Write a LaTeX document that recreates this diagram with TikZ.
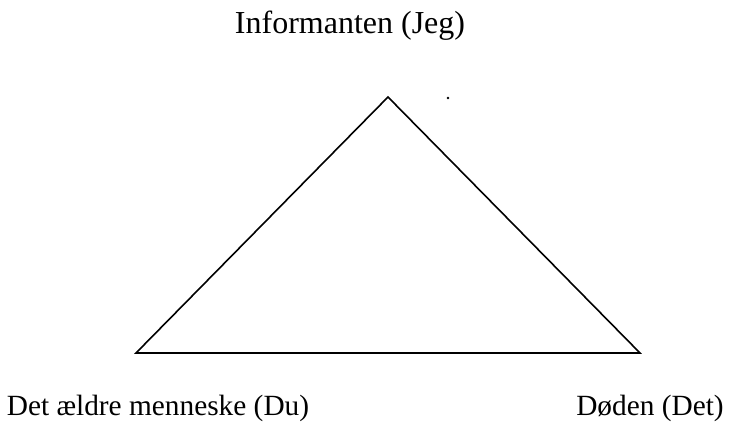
\documentclass[tikz,border=0pt]{standalone}
\usepackage{fontspec}
\setmainfont{Liberation Serif}
\usetikzlibrary{positioning}

\begin{document}
\begin{tikzpicture}[
    x=0.75pt, y=-0.75pt,
    label/.style={font=\fontsize{22}{26}\selectfont, inner sep=0pt},
    side/.style={draw=black, line width=1.2pt, line join=miter}
]
    \useasboundingbox (0,0) rectangle (734,425);
    % corners of the triangle
    \coordinate (top) at (388,97);
    \coordinate (left) at (136,353);
    \coordinate (right) at (640,353);
    \draw[side] (top) -- (right) -- (left) -- cycle;
    \fill (448,98) circle (1.3);
    % the three labels
    \node[label, font=\fontsize{24}{28}\selectfont] (jeg) at (350,26) {Informanten (Jeg)};
    \node[label] (du) at (158,408) {Det ældre menneske (Du)};
    \node[label] (det) at (650,408) {Døden (Det)};
\end{tikzpicture}
\end{document}
